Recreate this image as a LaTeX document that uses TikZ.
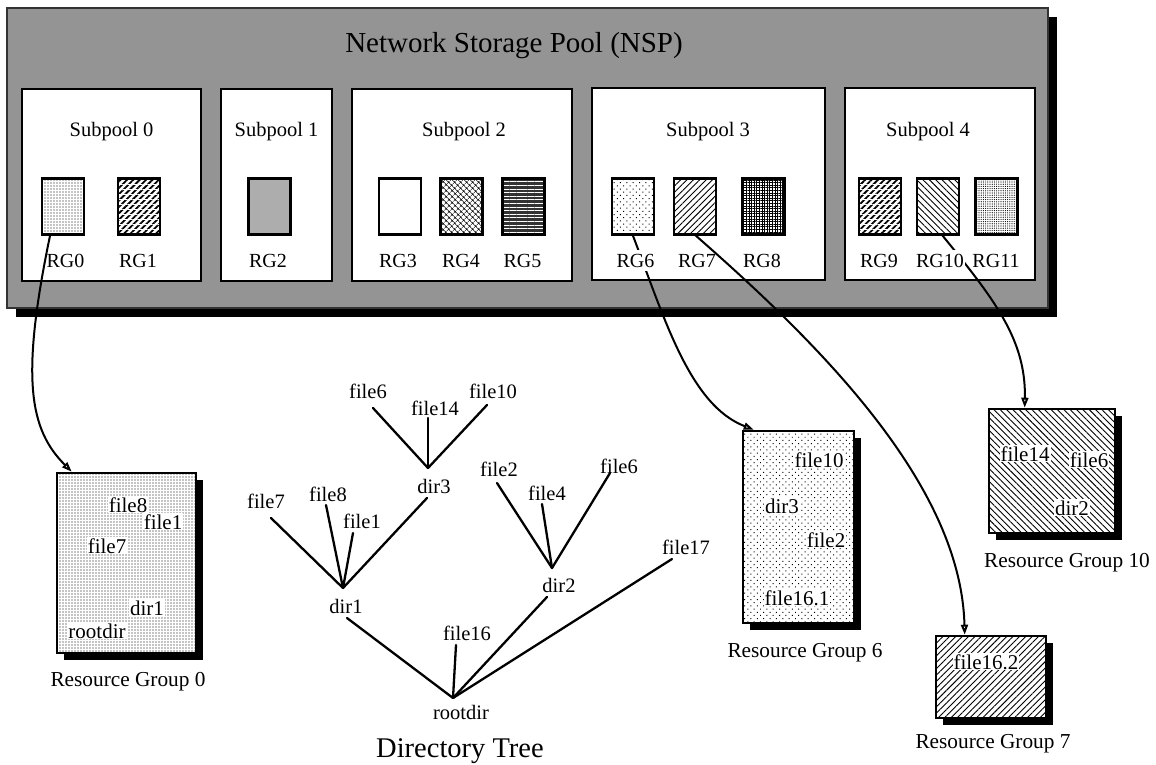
\documentclass[tikz,border=0pt]{standalone}
\usepackage{fontspec}
\setmainfont{Liberation Serif}
\usetikzlibrary{patterns.meta,arrows.meta,calc,shadows}

\definecolor{poolgray}{gray}{0.58}

\begin{document}
\begin{tikzpicture}[x=1pt,y=-1pt,
  % containers
  pool/.style={draw=black!80, line width=1.4pt, fill=poolgray, inner sep=0pt,
    drop shadow={shadow xshift=9pt, shadow yshift=-9pt, fill=black, opacity=1}},
  subpool/.style={draw=black, line width=2.8pt, fill=white, inner sep=0pt, minimum height=192pt},
  rgbox/.style={draw=black, line width=2.6pt, inner sep=0pt, minimum width=42pt, minimum height=56pt},
  group/.style={drop shadow={shadow xshift=7pt, shadow yshift=-7pt, fill=black, opacity=1},
    preaction={fill=white}, draw=black, line width=2.6pt, inner sep=0pt},
  % fills
  densedots/.style={pattern={Dots[distance=3pt,radius=0.65pt]}},
  sparsedots/.style={pattern={Dots[distance=4.5pt,radius=0.7pt,angle=45]}},
  finedots/.style={pattern={Dots[distance=2.2pt,radius=0.6pt]}},
  weave/.style={preaction={pattern={Lines[angle=45,distance=4.5pt,line width=1.8pt]}, pattern color=black},
    pattern={Lines[angle=0,distance=5pt,line width=1pt]}, pattern color=white},
  rising/.style={pattern={Lines[angle=45,distance=4.5pt,line width=0.9pt]}},
  falling/.style={pattern={Lines[angle=-45,distance=4.5pt,line width=0.9pt]}},
  finegrid/.style={pattern={Hatch[angle=0,distance=2.6pt,line width=0.6pt]}},
  lighthatch/.style={pattern={Hatch[angle=45,distance=4pt,line width=0.5pt]}},
  brickfill/.style={preaction={fill=black!80}, pattern={Lines[angle=0,distance=3.6pt,line width=0.9pt]}, pattern color=white},
  graystip/.style={fill=black!32},
  % texts
  title/.style={font=\fontsize{29}{34}\selectfont, anchor=base, inner sep=0pt},
  splabel/.style={font=\fontsize{20.5}{24}\selectfont, anchor=base, inner sep=0pt},
  rglabel/.style={font=\fontsize{20}{24}\selectfont, anchor=base, inner sep=1pt},
  cover/.style={fill=white, inner ysep=4pt, inner xsep=1.5pt},
  tree/.style={font=\fontsize{20.5}{24}\selectfont, anchor=base, inner sep=1pt},
  inside/.style={font=\fontsize{21}{24}\selectfont, anchor=base, fill=white, inner sep=1pt},
  caption/.style={font=\fontsize{21.3}{25}\selectfont, anchor=base, inner sep=0pt},
  bigcaption/.style={font=\fontsize{28.5}{33}\selectfont, anchor=base, inner sep=0pt},
  % connectors
  branch/.style={line width=2.3pt, line cap=round},
  arr/.style={line width=2pt, -{Triangle[open,length=10pt,width=7pt]}}
]
\useasboundingbox (0,0) rectangle (1156,765);

% ---- storage pool with its subpools ----
\node[pool, minimum width=1041pt, minimum height=300pt] (nsp) at (527.5,158) {};
\node[title] (nsptitle) at (514,53) {Network Storage Pool (NSP)};

\node[subpool, minimum width=179pt] (sp0) at (111.5,185) {};
\node[subpool, minimum width=111pt] (sp1) at (276.5,185) {};
\node[subpool, minimum width=220pt] (sp2) at (462,185) {};
\node[subpool, minimum width=233pt] (sp3) at (708.5,184) {};
\node[subpool, minimum width=190pt] (sp4) at (940,184) {};

\node[splabel] (sp0lbl) at (111.5,137) {Subpool 0};
\node[splabel] (sp1lbl) at (276.5,137) {Subpool 1};
\node[splabel] (sp2lbl) at (464,137) {Subpool 2};
\node[splabel] (sp3lbl) at (708,137) {Subpool 3};
\node[splabel] (sp4lbl) at (928,137) {Subpool 4};

% ---- resource groups ----
\node[rgbox, densedots]  (rg0)  at (63,206.5)    {};
\node[rgbox, weave]      (rg1)  at (139,206.5)   {};
\node[rgbox, graystip]   (rg2)  at (269.5,206.5) {};
\node[rgbox]             (rg3)  at (400,206.5)   {};
\node[rgbox, lighthatch] (rg4)  at (461.5,206.5) {};
\node[rgbox, brickfill]  (rg5)  at (523.5,206.5) {};
\node[rgbox, sparsedots] (rg6)  at (633,206.5)   {};
\node[rgbox, rising]     (rg7)  at (695,206.5)   {};
\node[rgbox, finegrid]   (rg8)  at (763.5,206.5) {};
\node[rgbox, weave]      (rg9)  at (880,206.5)   {};
\node[rgbox, falling]    (rg10) at (938,206.5)   {};
\node[rgbox, finedots]   (rg11) at (996.5,206.5) {};

% ---- resource group contents ----
\node[group, densedots, minimum width=139pt, minimum height=180pt] (grp0) at (126.5,563) {};
\node[group, sparsedots, minimum width=111pt, minimum height=192pt] (grp6) at (798.5,527) {};
\node[group, falling, minimum width=126pt, minimum height=124pt] (grp10) at (1052,471) {};
\node[group, rising, minimum width=110pt, minimum height=82pt] (grp7) at (991,677) {};

% ---- mapping arrows ----
\draw[arr] ([xshift=-13pt]rg0.south) .. controls (20,380) and (30,430) .. ([xshift=16pt]grp0.north west);
\draw[arr] (rg6.south) .. controls (665,320) and (690,405) .. ([xshift=12pt]grp6.north west);
\draw[arr] (rg7.south) .. controls (823,347) and (961,486) .. ([xshift=30pt]grp7.north west);
\draw[arr] ([xshift=4pt]rg10.south) .. controls (995,300) and (1026,340) .. ([xshift=37pt]grp10.north west);

\node[rglabel] (rg0lbl)  at (65.5,267)  {RG0};
\node[rglabel] (rg1lbl)  at (138,267)   {RG1};
\node[rglabel] (rg2lbl)  at (268,267)   {RG2};
\node[rglabel] (rg3lbl)  at (398,267)   {RG3};
\node[rglabel] (rg4lbl)  at (461,267)   {RG4};
\node[rglabel] (rg5lbl)  at (522.5,267) {RG5};
\node[rglabel, cover] (rg6lbl)  at (635.5,267) {RG6};
\node[rglabel] (rg7lbl)  at (697,267)   {RG7};
\node[rglabel] (rg8lbl)  at (762,267)   {RG8};
\node[rglabel] (rg9lbl)  at (879,267)   {RG9};
\node[rglabel, cover] (rg10lbl) at (940,267) {RG10};
\node[rglabel] (rg11lbl) at (996,267)   {RG11};

\node[inside] (g0f8)   at (128,512) {file8};
\node[inside] (g0f1)   at (163,529) {file1};
\node[inside] (g0f7)   at (107,553) {file7};
\node[inside] (g0d1)   at (147,615) {dir1};
\node[inside] (g0root) at (97,638)  {rootdir};
\node[caption] (grp0cap) at (128,686) {Resource Group 0};

\node[inside] (g6f10) at (819,467) {file10};
\node[inside] (g6d3)  at (782,513) {dir3};
\node[inside] (g6f2)  at (826,547) {file2};
\node[inside] (g6f16) at (797,605) {file16.1};
\node[caption] (grp6cap) at (805,657) {Resource Group 6};

\node[inside] (g10f14) at (1025,461) {file14};
\node[inside] (g10f6)  at (1089,467) {file6};
\node[inside] (g10d2)  at (1072,515) {dir2};
\node[caption] (grp10cap) at (1067,567) {Resource Group 10};

\node[inside] (g7f16) at (986,669) {file16.2};
\node[caption] (grp7cap) at (993,748) {Resource Group 7};

% ---- directory tree ----
\node[tree] (f6a)  at (368,398) {file6};
\node[tree] (f14)  at (435,415) {file14};
\node[tree] (f10)  at (493,398) {file10};
\node[tree] (d3)   at (434,493) {dir3};
\node[tree] (f7)   at (266,508) {file7};
\node[tree] (f8)   at (328,501) {file8};
\node[tree] (f1)   at (362,528) {file1};
\node[tree] (d1)   at (346,613) {dir1};
\node[tree] (f2)   at (499,476) {file2};
\node[tree] (f4)   at (547,500) {file4};
\node[tree] (f6b)  at (619,473) {file6};
\node[tree] (f17)  at (686,554) {file17};
\node[tree] (d2)   at (559,592) {dir2};
\node[tree] (f16)  at (467,640) {file16};
\node[tree] (root) at (461,719) {rootdir};
\node[bigcaption] (treecap) at (460,757) {Directory Tree};

\coordinate (d3top)   at ([shift={(-6,-25)}]d3.base);
\coordinate (d1top)   at ([shift={(-3,-25)}]d1.base);
\coordinate (d2top)   at ([shift={(-7,-24)}]d2.base);
\coordinate (roottop) at ([shift={(-8,-21)}]root.base);

\draw[branch] ([shift={(5,10)}]f6a.base) -- (d3top);
\draw[branch] ([shift={(-7,3)}]f14.base) -- (d3top);
\draw[branch] ([shift={(-6,7)}]f10.base) -- (d3top);

\draw[branch] ([shift={(5,10)}]f7.base) -- (d1top);
\draw[branch] ([shift={(-2,4)}]f8.base) -- (d1top);
\draw[branch] ([shift={(-9,5)}]f1.base) -- (d1top);
\draw[branch] ([shift={(-7,5)}]d3.base) -- (d1top);

\draw[branch] ([shift={(-2,7)}]f2.base) -- (d2top);
\draw[branch] ([shift={(-5,4)}]f4.base) -- (d2top);
\draw[branch] ([shift={(-9,0)}]f6b.base) -- (d2top);

\draw[branch] ([shift={(1,5)}]d1.base) -- (roottop);
\draw[branch] ([shift={(-11,5)}]f16.base) -- (roottop);
\draw[branch] ([shift={(-12,5)}]d2.base) -- (roottop);
\draw[branch] ([shift={(-14,5)}]f17.base) -- (roottop);
\end{tikzpicture}
\end{document}
